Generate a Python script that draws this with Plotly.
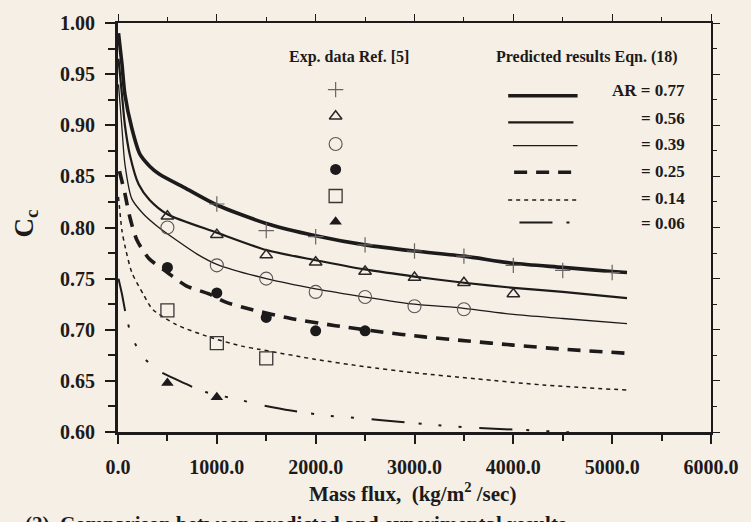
import plotly.graph_objects as go

# ---------------- data ----------------
# Predicted curves, Eqn. (18)
pred_x_077 = [5, 40, 70, 140, 220, 320, 420, 690, 1000, 1500, 2000, 2500, 3000, 3500, 4000, 4500, 5000, 5150]
pred_y_077 = [0.99, 0.96, 0.93, 0.897, 0.872, 0.86, 0.852, 0.838, 0.822, 0.804, 0.792, 0.783, 0.777, 0.772, 0.765, 0.761, 0.757, 0.756]

pred_x_056 = [5, 40, 70, 120, 210, 320, 500, 1000, 1500, 2000, 2500, 3000, 3500, 4000, 4500, 5150]
pred_y_056 = [0.965, 0.93, 0.90, 0.871, 0.842, 0.827, 0.813, 0.795, 0.778, 0.768, 0.759, 0.752, 0.746, 0.741, 0.737, 0.731]

pred_x_039 = [5, 40, 70, 140, 250, 400, 600, 800, 1000, 1500, 2000, 2500, 3000, 3500, 4000, 4500, 5150]
pred_y_039 = [0.94, 0.897, 0.862, 0.828, 0.814, 0.801, 0.787, 0.774, 0.764, 0.75, 0.740, 0.732, 0.725, 0.721, 0.715, 0.711, 0.706]

pred_x_025 = [15, 70, 120, 190, 310, 500, 690, 920, 1090, 1340, 1750, 2200, 2650, 3100, 3540, 4000, 4500, 5150]
pred_y_025 = [0.855, 0.833, 0.81, 0.788, 0.77, 0.756, 0.743, 0.735, 0.727, 0.72, 0.711, 0.704, 0.698, 0.693, 0.689, 0.685, 0.681, 0.677]

pred_x_014 = [5, 40, 70, 140, 260, 350, 590, 920, 1250, 1420, 2000, 2490, 2990, 3620, 4300, 5150]
pred_y_014 = [0.83, 0.797, 0.782, 0.756, 0.734, 0.72, 0.705, 0.693, 0.684, 0.681, 0.671, 0.664, 0.658, 0.652, 0.646, 0.641]

pred_x_006 = [5, 40, 90, 150, 250, 390, 690, 850, 1250, 1420, 1750, 2120, 2500, 2840, 3200, 3620, 4100, 4500, 5150]
pred_y_006 = [0.75, 0.735, 0.71, 0.691, 0.674, 0.661, 0.647, 0.64, 0.631, 0.627, 0.621, 0.616, 0.613, 0.61, 0.607, 0.604, 0.602, 0.600, 0.597]

# Experimental data, Ref. [5]
exp_x_077 = [1000, 1500, 2000, 2500, 3000, 3500, 4000, 4500, 5000]
exp_y_077 = [0.823, 0.797, 0.791, 0.783, 0.777, 0.772, 0.763, 0.758, 0.756]

exp_x_056 = [500, 1000, 1500, 2000, 2500, 3000, 3500, 4000]
exp_y_056 = [0.811, 0.793, 0.773, 0.766, 0.757, 0.751, 0.746, 0.735]

exp_x_039 = [500, 1000, 1500, 2000, 2500, 3000, 3500]
exp_y_039 = [0.80, 0.763, 0.75, 0.737, 0.732, 0.723, 0.720]

exp_x_025 = [500, 1000, 1500, 2000, 2500]
exp_y_025 = [0.761, 0.736, 0.712, 0.699, 0.699]

exp_x_014 = [500, 1000, 1500]
exp_y_014 = [0.719, 0.687, 0.672]

exp_x_006 = [500, 1000]
exp_y_006 = [0.648, 0.634]

x_ticks = [0, 1000, 2000, 3000, 4000, 5000, 6000]
y_ticks = [0.60, 0.65, 0.70, 0.75, 0.80, 0.85, 0.90, 0.95, 1.00]

legend_labels = ["AR = 0.77", "= 0.56", "= 0.39", "= 0.25", "= 0.14", "= 0.06"]

# ---------------- styling ----------------
BG = "#f5efe5"
INK = "#1c1a1a"
FONT = "Liberation Serif"
XR = [0, 6000]
YR = [0.60, 1.00]

line_styles = [
    dict(width=3.6, dash="solid"),
    dict(width=2.2, dash="solid"),
    dict(width=1.3, dash="solid"),
    dict(width=3.6, dash="13px,9px"),
    dict(width=1.5, dash="4px,4px"),
    dict(width=2.0, dash="33px,14px,3px,17px,3px,17px,3px,18px"),
]
marker_styles = [
    dict(symbol="cross-thin", size=11, color="#6a6464", line=dict(width=1.2, color="#6a6464")),
    dict(symbol="triangle-up-open", size=11, color="#2a2626", line=dict(width=1.5, color="#2a2626")),
    dict(symbol="circle-open", size=13, color="#5a5454", line=dict(width=1.1, color="#5a5454")),
    dict(symbol="circle", size=11, color=INK, line=dict(width=0, color=INK)),
    dict(symbol="square-open", size=13, color="#3a3636", line=dict(width=1.3, color="#3a3636")),
    dict(symbol="triangle-up", size=11, color=INK, line=dict(width=0, color=INK)),
]

pred = [(pred_x_077, pred_y_077), (pred_x_056, pred_y_056), (pred_x_039, pred_y_039),
        (pred_x_025, pred_y_025), (pred_x_014, pred_y_014), (pred_x_006, pred_y_006)]
exp = [(exp_x_077, exp_y_077), (exp_x_056, exp_y_056), (exp_x_039, exp_y_039),
       (exp_x_025, exp_y_025), (exp_x_014, exp_y_014), (exp_x_006, exp_y_006)]

fig = go.Figure()

for (px, py), ls in zip(pred, line_styles):
    fig.add_trace(go.Scatter(x=px, y=py, mode="lines",
                             line=dict(color=INK, shape="spline", smoothing=0.7, **ls),
                             showlegend=False, hoverinfo="skip"))
for (ex, ey), ms in zip(exp, marker_styles):
    fig.add_trace(go.Scatter(x=ex, y=ey, mode="markers", marker=ms, showlegend=False))

# ---------------- hand-made legend (positions as plot fractions) ----------------
leg_marker_fx = 0.367
leg_marker_fy = [0.837, 0.772, 0.704, 0.642, 0.577, 0.514]
leg_line_fx = [(0.658, 0.775), (0.658, 0.768), (0.666, 0.775), (0.668, 0.775), (0.658, 0.773), (0.677, 0.775)]
leg_line_fy = [0.822, 0.757, 0.700, 0.635, 0.567, 0.512]
leg_text_fy = [0.834, 0.767, 0.702, 0.637, 0.572, 0.510]


def fx(f):
    return XR[0] + f * (XR[1] - XR[0])


def fy(f):
    return YR[0] + f * (YR[1] - YR[0])


for i in range(6):
    fig.add_trace(go.Scatter(x=[fx(leg_marker_fx)], y=[fy(leg_marker_fy[i])], mode="markers",
                             marker=marker_styles[i], showlegend=False, hoverinfo="skip"))
    x0, x1 = leg_line_fx[i]
    fig.add_trace(go.Scatter(x=[fx(x0), fx(x1)], y=[fy(leg_line_fy[i])] * 2, mode="lines",
                             line=dict(color=INK, **line_styles[i]), showlegend=False, hoverinfo="skip"))
    fig.add_annotation(x=0.960, y=leg_text_fy[i], xref="paper", yref="paper", text=legend_labels[i],
                       showarrow=False, xanchor="right", yanchor="middle",
                       font=dict(family=FONT, size=17, color=INK, weight="bold"))

fig.add_annotation(x=0.389, y=0.918, xref="paper", yref="paper", text="Exp. data Ref. [5]",
                   showarrow=False, xanchor="center", yanchor="middle",
                   font=dict(family=FONT, size=16, color=INK, weight="bold"))
fig.add_annotation(x=0.791, y=0.918, xref="paper", yref="paper", text="Predicted results Eqn. (18)",
                   showarrow=False, xanchor="center", yanchor="middle",
                   font=dict(family=FONT, size=16, color=INK, weight="bold"))

# axis titles
fig.add_annotation(x=-0.155, y=0.51, xref="paper", yref="paper", text="C<sub>c</sub>", textangle=-90,
                   showarrow=False, xanchor="center", yanchor="middle",
                   font=dict(family=FONT, size=27, color=INK, weight="bold"))
fig.add_annotation(x=0.496, y=-0.147, xref="paper", yref="paper",
                   text="Mass flux,  (kg/m<sup>2</sup> /sec)",
                   showarrow=False, xanchor="center", yanchor="middle",
                   font=dict(family=FONT, size=21, color=INK, weight="bold"))
# caption cut off by the bottom edge (as in the reference)
fig.add_annotation(x=-0.16, y=-0.190, xref="paper", yref="paper",
                   text="(2)  Comparison between predicted and experimental results",
                   showarrow=False, xanchor="left", yanchor="top",
                   font=dict(family=FONT, size=21, color=INK, weight="bold"))

# invisible trace for the mirror axes
fig.add_trace(go.Scatter(x=[None], y=[None], xaxis="x2", yaxis="y2", showlegend=False))

tickfont = dict(family=FONT, size=20, color=INK, weight="bold")
fig.update_layout(
    width=751, height=522,
    margin=dict(l=118, r=34, t=16, b=90),
    paper_bgcolor=BG, plot_bgcolor=BG,
    showlegend=False,
    xaxis=dict(range=XR, tickvals=x_ticks, ticktext=[f"{v:.1f}" for v in x_ticks],
               showgrid=False, zeroline=False, showline=True, linewidth=3, linecolor=INK,
               ticks="outside", ticklen=9, tickwidth=2.2, tickcolor=INK, tickfont=tickfont,
               ticklabelstandoff=6,
               minor=dict(dtick=500, ticks="outside", ticklen=6, tickwidth=2, tickcolor=INK)),
    yaxis=dict(range=YR, tickvals=y_ticks, ticktext=[f"{v:.2f}" for v in y_ticks],
               showgrid=False, zeroline=False, showline=True, linewidth=3, linecolor=INK,
               ticks="outside", ticklen=10, tickwidth=2.2, tickcolor=INK, tickfont=tickfont,
               ticklabelstandoff=6,
               minor=dict(dtick=0.025, ticks="outside", ticklen=7, tickwidth=2, tickcolor=INK)),
    xaxis2=dict(range=XR, overlaying="x", side="top", anchor="y2", dtick=1000, showticklabels=False,
                showgrid=False, zeroline=False, showline=True, linewidth=1.5, linecolor=INK,
                ticks="outside", ticklen=7, tickwidth=1.2, tickcolor=INK,
                minor=dict(dtick=500, ticks="outside", ticklen=4, tickwidth=1, tickcolor=INK)),
    yaxis2=dict(range=YR, overlaying="y", side="right", anchor="x2", dtick=0.05, showticklabels=False,
                showgrid=False, zeroline=False, showline=True, linewidth=1.5, linecolor=INK,
                ticks="outside", ticklen=7, tickwidth=1.2, tickcolor=INK,
                minor=dict(dtick=0.025, ticks="outside", ticklen=4, tickwidth=1, tickcolor=INK)),
)

fig.write_html("out.html")
